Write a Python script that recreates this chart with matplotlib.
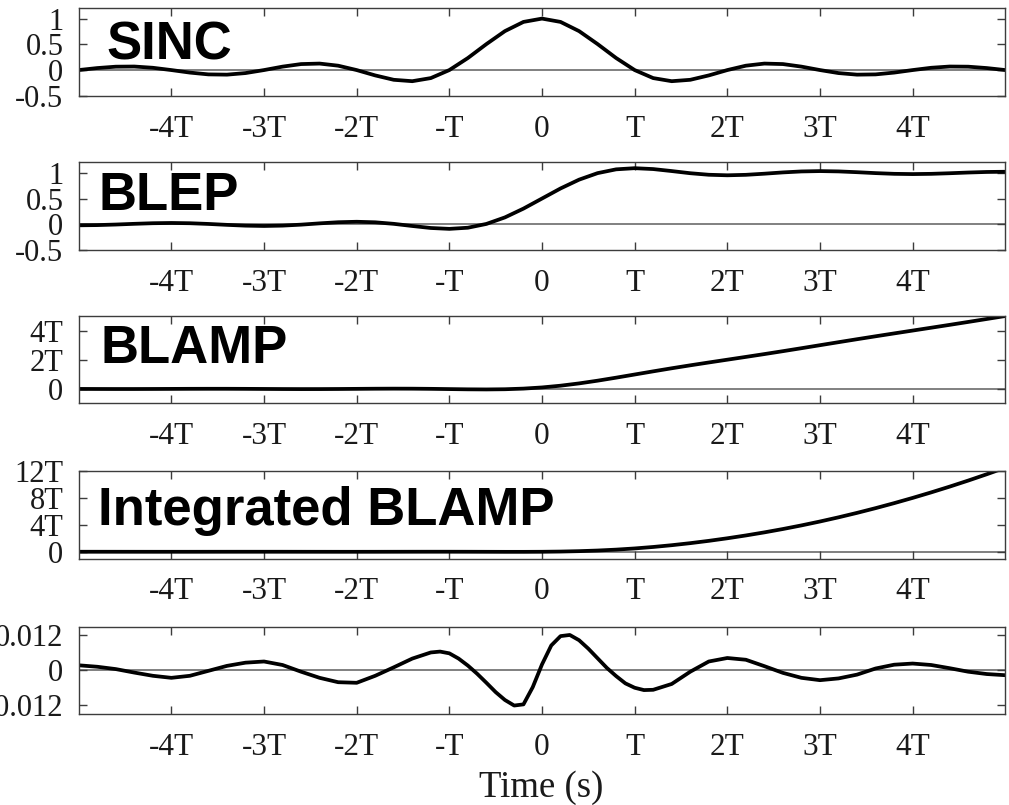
import matplotlib
matplotlib.use('Agg')
import matplotlib.pyplot as plt

plt.rcParams['font.family'] = 'Liberation Serif'

# time axis in units of T (sample period)
t = [-5.0, -4.8, -4.6, -4.4, -4.2, -4.0, -3.8, -3.6, -3.4, -3.2, -3.0,
     -2.8, -2.6, -2.4, -2.2, -2.0, -1.8, -1.6, -1.4, -1.2, -1.0,
     -0.8, -0.6, -0.4, -0.2, 0.0, 0.2, 0.4, 0.6, 0.8, 1.0,
     1.2, 1.4, 1.6, 1.8, 2.0, 2.2, 2.4, 2.6, 2.8, 3.0,
     3.2, 3.4, 3.6, 3.8, 4.0, 4.2, 4.4, 4.6, 4.8, 5.0]

sinc_vals = [0.0, 0.0390, 0.0658, 0.0688, 0.0445, 0.0, -0.0492, -0.0841, -0.0890, -0.0585, 0.0,
             0.0668, 0.1164, 0.1261, 0.0850, 0.0, -0.1039, -0.1892, -0.2162, -0.1559, 0.0,
             0.2339, 0.5046, 0.7568, 0.9355, 1.0, 0.9355, 0.7568, 0.5046, 0.2339, 0.0,
             -0.1559, -0.2162, -0.1892, -0.1039, 0.0, 0.0850, 0.1261, 0.1164, 0.0668, 0.0,
             -0.0585, -0.0890, -0.0841, -0.0492, 0.0, 0.0445, 0.0688, 0.0658, 0.0390, 0.0]

blep_vals = [-0.0201, -0.0161, -0.0053, 0.0086, 0.0203, 0.0250, 0.0200, 0.0063, -0.0116, -0.0269, -0.0331,
             -0.0263, -0.0075, 0.0176, 0.0395, 0.0486, 0.0382, 0.0083, -0.0336, -0.0724, -0.0895,
             -0.0671, 0.0065, 0.1335, 0.3043, 0.5, 0.6957, 0.8665, 0.9935, 1.0671, 1.0895,
             1.0724, 1.0336, 0.9917, 0.9618, 0.9514, 0.9605, 0.9824, 1.0075, 1.0263, 1.0331,
             1.0269, 1.0116, 0.9937, 0.9800, 0.9750, 0.9797, 0.9914, 1.0053, 1.0161, 1.0201]

blamp_vals = [-0.0008, -0.0047, -0.0069, -0.0065, -0.0033, 0.0013, 0.0060, 0.0086, 0.0081, 0.0041, -0.0020,
              -0.0084, -0.0118, -0.0109, -0.0049, 0.0041, 0.0132, 0.0180, 0.0157, 0.0049, -0.0118,
              -0.0283, -0.0352, -0.0221, 0.0211, 0.1013, 0.2211, 0.3779, 0.5648, 0.7717, 0.9882,
              1.2049, 1.4157, 1.6180, 1.8132, 2.0041, 2.1951, 2.3891, 2.5882, 2.7916, 2.9980,
              3.2041, 3.4081, 3.6086, 3.8060, 4.0013, 4.1967, 4.3935, 4.5931, 4.7953, 4.9992]

iblamp_vals = [0.0020, 0.0017, 0.0006, -0.0010, -0.0026, -0.0026, -0.0019, -0.0002, 0.0016, 0.0029, 0.0030,
               0.0022, 0.0000, -0.0022, -0.0040, -0.0041, -0.0024, 0.0009, 0.0043, 0.0066, 0.0059,
               0.0018, -0.0048, -0.0109, -0.0116, 0.0, 0.0316, 0.0909, 0.1848, 0.3182, 0.4941,
               0.7134, 0.9757, 1.2791, 1.6224, 2.0041, 2.4240, 2.8822, 3.3800, 3.9178, 4.4970,
               5.1171, 5.7784, 6.4802, 7.2219, 8.0026, 8.8226, 9.6810, 10.5794, 11.5183, 12.4980]

# bottom trace is sampled finer around the origin
t_err = [-5.0, -4.8, -4.6, -4.4, -4.2, -4.0, -3.8, -3.6, -3.4, -3.2, -3.0,
         -2.8, -2.6, -2.4, -2.2, -2.0, -1.8, -1.6, -1.4, -1.2, -1.1, -1.0,
         -0.9, -0.8, -0.7, -0.6, -0.5, -0.4, -0.3, -0.2, -0.1, 0.0,
         0.1, 0.2, 0.3, 0.4, 0.5, 0.6, 0.7, 0.8, 0.9, 1.0, 1.1, 1.2,
         1.4, 1.6, 1.8, 2.0, 2.2, 2.4, 2.6, 2.8, 3.0, 3.2, 3.4, 3.6, 3.8,
         4.0, 4.2, 4.4, 4.6, 4.8, 5.0]
err_vals = [0.0017, 0.0012, 0.0004, -0.0008, -0.0019, -0.0026, -0.0019, -0.0002, 0.0015, 0.0026, 0.0030,
            0.0018, -0.0005, -0.0026, -0.0041, -0.0043, -0.0019, 0.0010, 0.0040, 0.0061, 0.0064, 0.0058,
            0.0040, 0.0016, -0.0012, -0.0043, -0.0075, -0.0102, -0.0121, -0.0117, -0.0058, 0.0020,
            0.0085, 0.0117, 0.0121, 0.0103, 0.0074, 0.0041, 0.0008, -0.0020, -0.0045, -0.0060, -0.0068, -0.0067,
            -0.0047, -0.0005, 0.0030, 0.0042, 0.0036, 0.0014, -0.0009, -0.0026, -0.0034, -0.0028, -0.0015, 0.0006, 0.0019,
            0.0023, 0.0018, 0.0007, -0.0005, -0.0013, -0.0017]

xtick_pos = [-4, -3, -2, -1, 0, 1, 2, 3, 4]
xtick_labels = ['-4T', '-3T', '-2T', '-T', '0', 'T', '2T', '3T', '4T']

panels = [
    dict(x=t, y=sinc_vals, ylim=(-0.5, 1.2), yt=[-0.5, 0, 0.5, 1],
         ytl=['-0.5', '0', '0.5', '1'], name='SINC', top=8.3, tx=106, ty=60),
    dict(x=t, y=blep_vals, ylim=(-0.5, 1.2), yt=[-0.5, 0, 0.5, 1],
         ytl=['-0.5', '0', '0.5', '1'], name='BLEP', top=162.5, tx=99, ty=210),
    dict(x=t, y=blamp_vals, ylim=(-1, 5), yt=[0, 2, 4],
         ytl=['0', '2T', '4T'], name='BLAMP', top=316, tx=100, ty=363),
    dict(x=t, y=iblamp_vals, ylim=(-1, 12), yt=[0, 4, 8, 12],
         ytl=['0', '4T', '8T', '12T'], name='Integrated BLAMP', top=471, tx=98, ty=525),
    dict(x=t_err, y=err_vals, ylim=(-0.015, 0.015), yt=[-0.012, 0, 0.012],
         ytl=['-0.012', '0', '0.012'], name=None, top=626.5),
]

W, H = 1009, 805
fig = plt.figure(figsize=(W / 100, H / 100), dpi=100)

ax_left, ax_right, ax_h = 78.7, 1005.3, 87.5
frame_col = '#3c3c3c'

for p in panels:
    ax = fig.add_axes([ax_left / W, 1 - (p['top'] + ax_h) / H,
                       (ax_right - ax_left) / W, ax_h / H])
    ax.axhline(0, color='#808080', lw=1.4, zorder=1)
    ax.plot(p['x'], p['y'], color='black', lw=2.7, zorder=2)
    ax.set_xlim(-5, 5)
    ax.set_ylim(*p['ylim'])
    ax.set_xticks(xtick_pos)
    ax.set_xticklabels(xtick_labels, fontsize=22.5)
    ax.set_yticks(p['yt'])
    ax.set_yticklabels(p['ytl'], fontsize=22)
    ax.tick_params(axis='x', direction='in', top=True, length=6, width=1,
                   color=frame_col, pad=13.5, labelcolor='#1a1a1a')
    ax.tick_params(axis='y', direction='in', right=True, length=6, width=1,
                   color=frame_col, pad=11, labelcolor='#1a1a1a')
    for s in ax.spines.values():
        s.set_color(frame_col)
        s.set_linewidth(1)
    if p['name']:
        fig.text(p['tx'] / W, 1 - p['ty'] / H, p['name'], family='Liberation Sans',
                 fontweight='bold', fontsize=38, va='baseline', ha='left')

fig.text(541 / W, 1 - 797 / H, 'Time (s)', fontsize=26.5, ha='center', va='baseline',
         color='#1a1a1a')

fig.savefig('out.png', dpi=100)
